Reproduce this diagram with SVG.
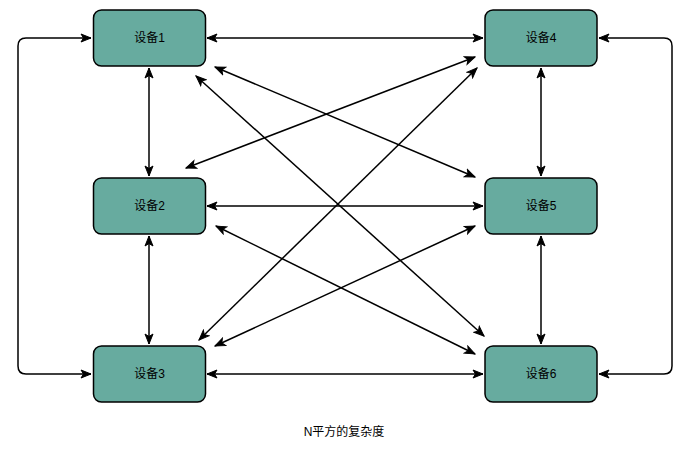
<svg xmlns="http://www.w3.org/2000/svg" width="693" height="449" viewBox="0 0 693 449">
<style>
.node rect{fill:#67AB9F;stroke:#000;stroke-width:1.5}
.node text,.cap{font-family:"Liberation Sans","Noto Sans CJK SC",sans-serif;font-size:12px;fill:#000;text-anchor:middle;dominant-baseline:central}
.c path{fill:none;stroke:#000;stroke-width:1.5;marker-start:url(#a);marker-end:url(#a)}
</style>
<defs>
<marker id="a" markerUnits="userSpaceOnUse" viewBox="0 0 12 10" refX="11" refY="5" markerWidth="12" markerHeight="10" orient="auto-start-reverse">
<path d="M1,1 L11,5 L1,9 L3.5,5 Z" fill="#000" stroke="#000" stroke-width="1"/>
</marker>
</defs>
<rect width="693" height="449" fill="#fff"/>
<g class="c">
<path d="M207,38 H483"/>
<path d="M207,206 H483"/>
<path d="M207,374 H483"/>
<path d="M149,68 V176"/>
<path d="M149,236 V344"/>
<path d="M541,68 V176"/>
<path d="M541,236 V344"/>
<path d="M91,38 H26 Q18,38 18,46 V366 Q18,374 26,374 H91"/>
<path d="M599,38 H664 Q672,38 672,46 V366 Q672,374 664,374 H599"/>
<path d="M215,67 L475,177"/>
<path d="M196,76 L484,336"/>
<path d="M186,168 L475,57"/>
<path d="M216,226 L475,354"/>
<path d="M199,340 L477,68"/>
<path d="M215,346 L475,226"/>
</g>
<g id="n1" class="node"><rect x="93.5" y="10" width="112" height="56" rx="8"/><text x="149.5" y="38">设备1</text></g>
<g id="n2" class="node"><rect x="93.5" y="178" width="112" height="56" rx="8"/><text x="149.5" y="206">设备2</text></g>
<g id="n3" class="node"><rect x="93.5" y="346" width="112" height="56" rx="8"/><text x="149.5" y="374">设备3</text></g>
<g id="n4" class="node"><rect x="485" y="10" width="112" height="56" rx="8"/><text x="541" y="38">设备4</text></g>
<g id="n5" class="node"><rect x="485" y="178" width="112" height="56" rx="8"/><text x="541" y="206">设备5</text></g>
<g id="n6" class="node"><rect x="485" y="346" width="112" height="56" rx="8"/><text x="541" y="374">设备6</text></g>
<text class="cap" x="344" y="432">N平方的复杂度</text>
</svg>
